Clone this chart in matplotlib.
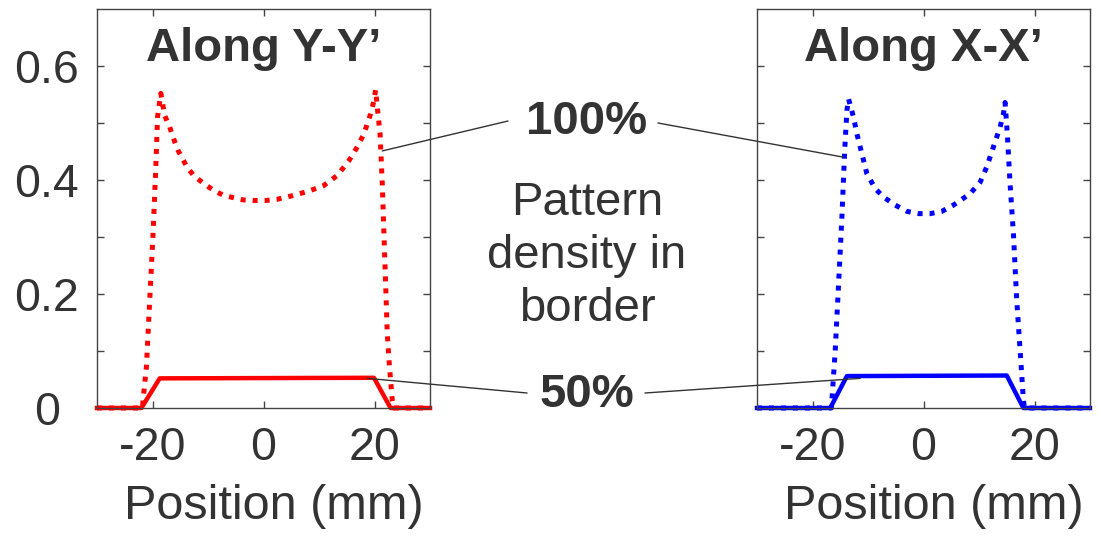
import matplotlib
matplotlib.use("Agg")
import matplotlib.pyplot as plt
from matplotlib.ticker import FixedLocator

plt.rcParams["font.family"] = ["Liberation Sans", "DejaVu Sans"]
plt.rcParams["axes.unicode_minus"] = False

TEXT = "#333333"
EDGE = "#444444"

# Along Y-Y' (red)
yy_full_x = [-30, -21.8, -21.7, -21.1, -20.5, -19.9, -19.4, -19.1, -18.5, -17.8, -16.9,
             -16.3, -15.4, -13.8, -12.6, -10.8, -9.0, -7.2, -5.4, -3.6, -1.5, 0.3, 2.4,
             5.0, 8.0, 10.8, 13.3, 15.4, 16.9, 18.1, 19.3, 19.9, 20.2, 20.5, 21.0, 21.4,
             21.7, 22.0, 22.3, 22.7, 23.2, 23.5, 30]
yy_full_y = [0, 0, 0.014, 0.072, 0.189, 0.306, 0.423, 0.510, 0.552, 0.513, 0.493,
             0.475, 0.452, 0.423, 0.408, 0.394, 0.382, 0.373, 0.369, 0.365, 0.364, 0.364, 0.366,
             0.372, 0.380, 0.390, 0.408, 0.434, 0.458, 0.481, 0.516, 0.539, 0.558, 0.528, 0.481, 0.394,
             0.306, 0.219, 0.131, 0.072, 0.014, 0, 0]
yy_half_x = [-30, -22.0, -18.7, 19.9, 22.9, 30]
yy_half_y = [0, 0, 0.052, 0.053, 0, 0]

# Along X-X' (blue)
xx_full_x = [-30, -16.6, -16.5, -15.9, -15.3, -14.7, -14.2, -13.8, -13.5, -12.6, -12.0,
             -11.1, -10.2, -8.7, -7.2, -5.1, -3.0, -0.9, 1.2, 3.3, 5.4, 8.4, 10.2, 11.4,
             12.6, 13.8, 14.4, 14.7, 15.1, 15.6, 16.2, 16.8, 17.4, 18.0, 18.2, 30]
xx_full_y = [0, 0, 0.014, 0.102, 0.218, 0.335, 0.452, 0.522, 0.542, 0.510, 0.481,
             0.446, 0.411, 0.385, 0.370, 0.356, 0.345, 0.341, 0.341, 0.345, 0.356, 0.376, 0.396, 0.423,
             0.458, 0.493, 0.516, 0.536, 0.481, 0.393, 0.306, 0.189, 0.102, 0.014, 0, 0]
xx_half_x = [-30, -16.8, -13.8, 15.0, 18.0, 30]
xx_half_y = [0, 0, 0.056, 0.057, 0, 0]

x_ticks = [-20, 0, 20]
y_ticks = [0, 0.2, 0.4, 0.6]
y_ticklabels = ["0", "0.2", "0.4", "0.6"]
y_minor = [0.1, 0.3, 0.5]

W, H = 1099, 536
fig = plt.figure(figsize=(W / 100, H / 100), dpi=100)
axL = fig.add_axes([97 / W, 1 - 408 / H, 333 / W, 399 / H])
axR = fig.add_axes([757 / W, 1 - 408 / H, 333 / W, 399 / H])

dots = (0, (1, 1.4))
axL.plot(yy_full_x, yy_full_y, color="#ff0000", lw=3.6, ls=dots, clip_on=False)
axL.plot(yy_half_x, yy_half_y, color="#ff0000", lw=3.2, clip_on=False)
axR.plot(xx_full_x, xx_full_y, color="#0000ff", lw=3.6, ls=dots, clip_on=False)
axR.plot(xx_half_x, xx_half_y, color="#0000ff", lw=3.2, clip_on=False)

for ax, title in [(axL, "Along Y-Y\u2019"), (axR, "Along X-X\u2019")]:
    ax.set_xlim(-30, 30)
    ax.set_ylim(0, 0.7)
    ax.set_xticks(x_ticks)
    ax.set_yticks(y_ticks)
    ax.yaxis.set_minor_locator(FixedLocator(y_minor))
    ax.tick_params(which="both", direction="in", top=True, right=True,
                   length=5, width=1, color=EDGE, labelsize=33.5, labelcolor=TEXT)
    ax.tick_params(axis="x", pad=13)
    for s in ax.spines.values():
        s.set_color(EDGE)
        s.set_linewidth(1)
    ax.set_xlabel("Position (mm)", fontsize=35, color=TEXT, labelpad=10)
    ax.xaxis.label.set_x(0.53)
    ax.text(0.5, 0.9, title, transform=ax.transAxes, ha="center", va="center",
            fontsize=34, fontweight="bold", color=TEXT)

axL.set_yticklabels(y_ticklabels)
for lab in axL.get_yticklabels():
    lab.set_horizontalalignment("center")
axL.tick_params(axis="y", pad=36)
axR.set_yticklabels([])

# labels in the middle
def fpx(x, y):
    return x / W, 1 - y / H

fig.text(*fpx(587, 122), "100%", ha="center", va="center", fontsize=34,
         fontweight="bold", color=TEXT)
fig.text(*fpx(587, 256), "Pattern\ndensity in\nborder", ha="center", va="center",
         fontsize=34, color=TEXT, linespacing=1.27)
fig.text(*fpx(587, 395), "50%", ha="center", va="center", fontsize=34,
         fontweight="bold", color=TEXT)

leaders = [
    (axL, (21.4, 0.451), (508, 121)),
    (axR, (-14.4, 0.44), (658, 123)),
    (axL, (18.7, 0.052), (527, 393)),
    (axR, (-11.4, 0.052), (645, 393)),
]
for ax, xy, (px, py) in leaders:
    ax.annotate("", xy=xy, xycoords="data", xytext=(px, H - py),
                textcoords="figure pixels", annotation_clip=False,
                arrowprops=dict(arrowstyle="-", color="#333333", lw=1,
                                shrinkA=0, shrinkB=0))

fig.savefig("out.png", dpi=100)
